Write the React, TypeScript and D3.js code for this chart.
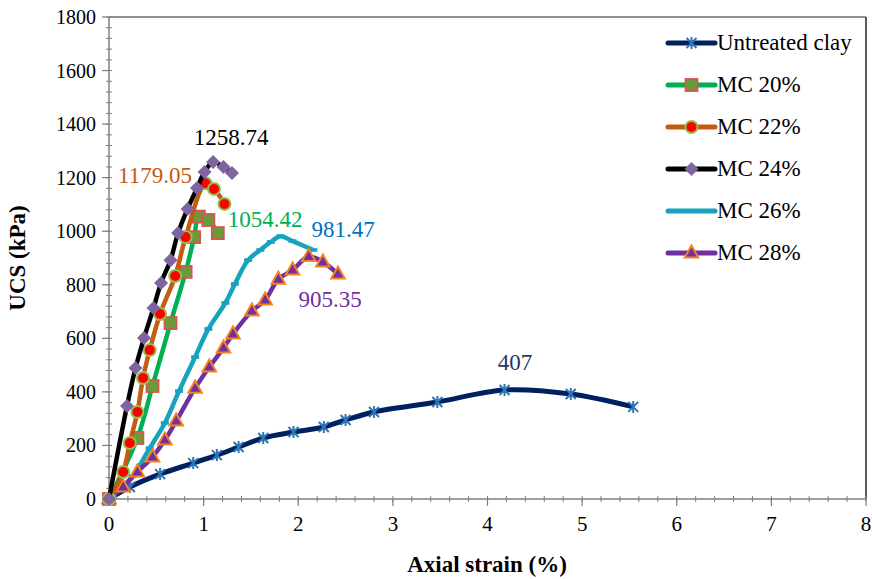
import React from "react";
import * as d3 from "d3";

const untreatedX = [0, 0.22, 0.54, 0.89, 1.14, 1.37, 1.63, 1.95, 2.27, 2.5, 2.8, 3.47, 4.18, 4.88, 5.54];
const untreatedY = [0, 45, 93, 134, 164, 194, 228, 250, 269, 295, 325, 362, 407, 392, 344];

const mc20X = [0, 0.3, 0.46, 0.65, 0.81, 0.9, 0.95, 1.05, 1.15];
const mc20Y = [0, 228, 422, 657, 848, 978, 1054.42, 1042, 993];

const mc22X = [0, 0.15, 0.22, 0.3, 0.36, 0.43, 0.54, 0.7, 0.81, 1.02, 1.11, 1.22];
const mc22Y = [0, 101, 209, 325, 452, 556, 691, 833, 978, 1179.05, 1158, 1102];

const mc24X = [0, 0.19, 0.28, 0.37, 0.47, 0.55, 0.65, 0.73, 0.83, 0.93, 1.01, 1.1, 1.21, 1.3];
const mc24Y = [0, 347, 489, 601, 713, 807, 892, 993, 1083, 1161, 1221, 1258.74, 1240, 1217];

const mc26X = [0, 0.04, 0.25, 0.43, 0.59, 0.74, 0.91, 1.05, 1.23, 1.33, 1.47, 1.6, 1.71, 1.81, 1.94, 2.16];
const mc26Y = [0, 11, 86, 190, 284, 403, 530, 635, 732, 803, 892, 930, 960, 981.47, 963, 930];

const mc28X = [0, 0.15, 0.3, 0.46, 0.59, 0.71, 0.91, 1.06, 1.21, 1.31, 1.51, 1.65, 1.79, 1.94, 2.11, 2.26, 2.42];
const mc28Y = [0, 45, 101, 157, 220, 291, 414, 493, 564, 616, 702, 743, 821, 855, 905.35, 885, 840];

const seriesNames = ["Untreated clay", "MC 20%", "MC 22%", "MC 24%", "MC 26%", "MC 28%"];
const peakLabels = ["407", "1054.42", "1179.05", "1258.74", "981.47", "905.35"];

const xTicks = [0, 1, 2, 3, 4, 5, 6, 7, 8];
const yTicks = [0, 200, 400, 600, 800, 1000, 1200, 1400, 1600, 1800];

type Marker = "star" | "square" | "circle" | "diamond" | "dash" | "triangle";
const seriesStyle: { line: string; width: number; marker: Marker; fill: string; stroke: string; labelColor: string; lx: number; ly: number }[] = [
  { line: "#002060", width: 5, marker: "star", fill: "none", stroke: "#2E75B6", labelColor: "#1F3864", lx: 515, ly: 370 },
  { line: "#00B050", width: 4.5, marker: "square", fill: "#6B9A3A", stroke: "#D9534F", labelColor: "#00B050", lx: 265, ly: 227 },
  { line: "#C55A11", width: 4.5, marker: "circle", fill: "#FF0000", stroke: "#92C050", labelColor: "#C55A11", lx: 155, ly: 183 },
  { line: "#000000", width: 4.5, marker: "diamond", fill: "#8064A2", stroke: "none", labelColor: "#000000", lx: 231, ly: 145 },
  { line: "#17A2BD", width: 4.5, marker: "dash", fill: "#17A2BD", stroke: "none", labelColor: "#0070C0", lx: 343, ly: 237 },
  { line: "#7030A0", width: 4.5, marker: "triangle", fill: "#7030A0", stroke: "#F58220", labelColor: "#7030A0", lx: 330, ly: 307 },
];

const allX = [untreatedX, mc20X, mc22X, mc24X, mc26X, mc28X];
const allY = [untreatedY, mc20Y, mc22Y, mc24Y, mc26Y, mc28Y];

const W = 872;
const H = 579;
const L = 109;
const R = 866;
const T = 17;
const B = 499;

const FONT = "Times New Roman, Liberation Serif, DejaVu Serif, Noto Serif, serif";

const xs = d3.scaleLinear().domain([0, 8]).range([L, R]);
const ys = d3.scaleLinear().domain([0, 1800]).range([B, T]);

function MarkerShape({ kind, x, y, fill, stroke, legend }: { kind: Marker; x: number; y: number; fill: string; stroke: string; legend?: boolean }) {
  if (kind === "star") {
    const s = 5;
    return (
      <path
        d={`M${x - s},${y - s}L${x + s},${y + s}M${x - s},${y + s}L${x + s},${y - s}M${x},${y - s - 1}L${x},${y + s + 1}`}
        stroke={stroke}
        strokeWidth={2}
        fill="none"
      />
    );
  }
  if (kind === "square") {
    const s = 6;
    return <rect x={x - s} y={y - s} width={2 * s} height={2 * s} fill={fill} stroke={stroke} strokeWidth={1.8} />;
  }
  if (kind === "circle") {
    return <circle cx={x} cy={y} r={6} fill={fill} stroke={stroke} strokeWidth={2} />;
  }
  if (kind === "diamond") {
    const s = 7;
    return <path d={`M${x},${y - s}L${x + s},${y}L${x},${y + s}L${x - s},${y}Z`} fill={fill} />;
  }
  if (kind === "dash") {
    if (legend) return null;
    return <rect x={x - 4} y={y - 1.8} width={8} height={3.6} fill={fill} />;
  }
  const s = 7.5;
  return (
    <path
      d={`M${x},${y - s}L${x + s * 0.9},${y + s * 0.6}L${x - s * 0.9},${y + s * 0.6}Z`}
      fill={fill}
      stroke={stroke}
      strokeWidth={2}
      strokeLinejoin="miter"
    />
  );
}

export default function App() {
  const line = d3
    .line<[number, number]>()
    .x((d) => xs(d[0]))
    .y((d) => ys(d[1]))
    .curve(d3.curveCatmullRom.alpha(0.5));

  const xMinor = d3.range(0, 8.0001, 0.2);
  const yMinor = d3.range(0, 1800.001, 40);

  const drawOrder = [0, 4, 5, 1, 2, 3];

  return (
    <svg
      width={W}
      height={H}
      style={{ position: "absolute", left: 0, top: 0, display: "block", background: "#fff" }}
    >
      <rect x={0} y={0} width={W} height={H} fill="#fff" />
      {/* frame */}
      <line x1={R} x2={R} y1={T} y2={B} stroke="#262626" strokeWidth={1.5} />
      <line x1={L} x2={R} y1={T} y2={T} stroke="#262626" strokeWidth={1} />
      {/* axes */}
      <line x1={L} x2={R} y1={B} y2={B} stroke="#7f7f7f" strokeWidth={1.5} />
      <line x1={L} x2={L} y1={T} y2={B} stroke="#7f7f7f" strokeWidth={1.5} />
      {xMinor.map((v, i) => (
        <line key={"xm" + i} x1={xs(v)} x2={xs(v)} y1={B - 3} y2={B + 3} stroke="#7f7f7f" strokeWidth={1} />
      ))}
      {yMinor.map((v, i) => (
        <line key={"ym" + i} x1={L - 3} x2={L + 3} y1={ys(v)} y2={ys(v)} stroke="#7f7f7f" strokeWidth={1} />
      ))}
      {xTicks.map((v) => (
        <g key={"xt" + v}>
          <line x1={xs(v)} x2={xs(v)} y1={B} y2={B + 7} stroke="#7f7f7f" strokeWidth={1.2} />
          <text x={xs(v)} y={B + 32} textAnchor="middle" fontSize={21} fill="#000" fontFamily={FONT}>
            {v}
          </text>
        </g>
      ))}
      {yTicks.map((v) => (
        <g key={"yt" + v}>
          <line x1={L - 7} x2={L} y1={ys(v)} y2={ys(v)} stroke="#7f7f7f" strokeWidth={1.2} />
          <text x={L - 13} y={ys(v) + 7} textAnchor="end" fontSize={20} fill="#000" fontFamily={FONT}>
            {v}
          </text>
        </g>
      ))}
      <text x={487} y={572} textAnchor="middle" fontSize={23} fontWeight="bold" fontFamily={FONT}>
        Axial strain (%)
      </text>
      <text
        transform={`translate(25,258) rotate(-90)`}
        textAnchor="middle"
        fontSize={23}
        fontWeight="bold"
        fontFamily={FONT}
      >
        UCS (kPa)
      </text>
      {/* series */}
      {drawOrder.map((si) => {
        const st = seriesStyle[si];
        const pts: [number, number][] = allX[si].map((x, i) => [x, allY[si][i]]);
        return (
          <g key={"s" + si}>
            <path d={line(pts) || ""} fill="none" stroke={st.line} strokeWidth={st.width} strokeLinejoin="round" />
            {pts.map((p, i) => (
              <MarkerShape key={i} kind={st.marker} x={xs(p[0])} y={ys(p[1])} fill={st.fill} stroke={st.stroke} />
            ))}
          </g>
        );
      })}
      {/* peak labels */}
      {seriesStyle.map((st, i) => (
        <text key={"pl" + i} x={st.lx} y={st.ly} textAnchor="middle" fontSize={23} fill={st.labelColor} fontFamily={FONT}>
          {peakLabels[i]}
        </text>
      ))}
      {/* legend */}
      {seriesNames.map((name, i) => {
        const st = seriesStyle[i];
        const y = 43 + i * 42;
        return (
          <g key={"lg" + i}>
            <line x1={668} x2={715} y1={y} y2={y} stroke={st.line} strokeWidth={5} strokeLinecap="round" />
            <MarkerShape kind={st.marker} x={691.5} y={y} fill={st.fill} stroke={st.stroke} legend />
            <text x={717} y={y + 7} fontSize={23} fill="#000" fontFamily={FONT}>
              {name}
            </text>
          </g>
        );
      })}
    </svg>
  );
}
